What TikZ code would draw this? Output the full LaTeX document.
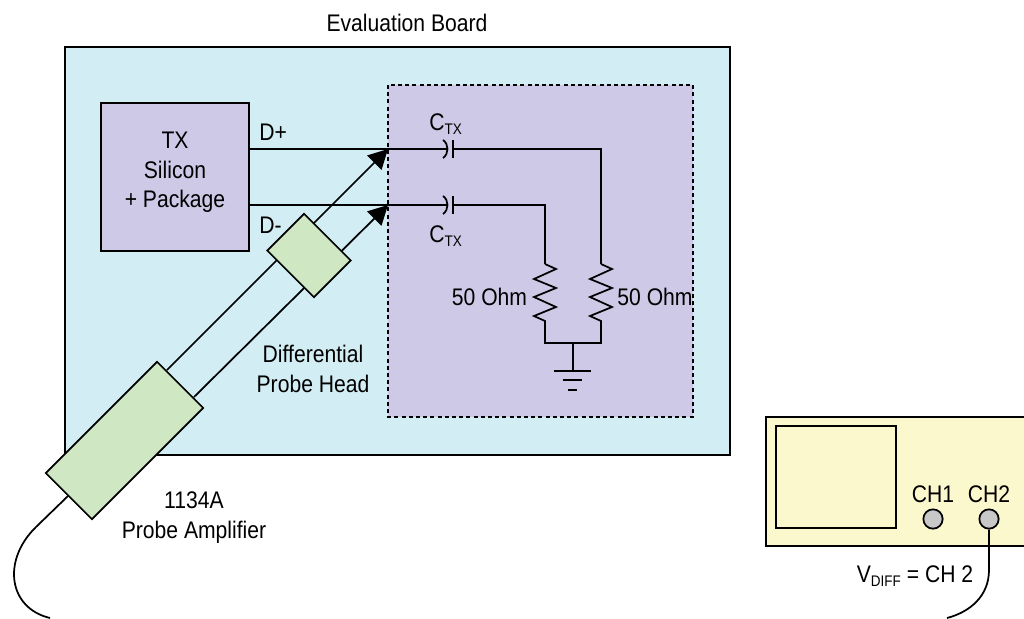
\documentclass[tikz,border=0pt]{standalone}
\usepackage{fontspec}
\setmainfont[FakeStretch=0.88]{Liberation Sans}
\usepackage{xcolor}
\usetikzlibrary{positioning, arrows.meta}

\definecolor{boardblue}{HTML}{D2EDF3}
\definecolor{txpurple}{HTML}{CDC9E6}
\definecolor{probegreen}{HTML}{D0E7C4}
\definecolor{scopeyellow}{HTML}{FCF8CE}
\definecolor{portgray}{HTML}{C8C8C8}

\tikzset{
    wire/.style={draw, line width=1.3pt},
    panel/.style={draw, line width=1.3pt},
    probebox/.style={draw, line width=1.3pt, fill=probegreen, rotate=45, inner sep=0pt},
    port/.style={circle, draw, line width=1.3pt, fill=portgray, minimum size=14.5pt, inner sep=0pt},
    lbl/.style={inner sep=0pt, align=center, font=\fontsize{18}{22}\selectfont},
}

\begin{document}
\begin{tikzpicture}[x=0.75pt,y=-0.75pt]
\clip (0,0) rectangle (1024,618);
\useasboundingbox (0,0) rectangle (1024,618);
\fill[white] (0,0) rectangle (1024,618);

\node[lbl] (title) at (407,23) {Evaluation Board};
\draw[panel, fill=boardblue] (65,47) rectangle (730,455);
\draw[line width=1.3pt, dashed, dash pattern=on 3pt off 2.4pt, fill=txpurple] (388,85) rectangle (693,417);

\node[panel, fill=txpurple, minimum width=111pt, minimum height=110.5pt, inner sep=0pt] (tx) at (175,177) {};
\node[lbl] (txtext) at (175,172.5) {TX\\Silicon\\+ Package};
\node[lbl, anchor=west] (dplus) at (259,132) {D+};
\node[lbl, anchor=west] (dminus) at (259,225) {D-};

% tips and capacitor ends
\coordinate (tipP) at (388,149);
\coordinate (tipM) at (388,205);
\coordinate (capP) at (448,149);
\coordinate (capM) at (448,205);
\coordinate (ampP) at (167,370);
\coordinate (ampM) at (194,397);
\coordinate (resP) at (601,264);
\coordinate (resM) at (545,264);

\draw[wire] (tx.east |- tipP) -- (capP);
\draw[wire] (tx.east |- tipM) -- (capM);
\draw[wire, -{Triangle[length=14.5pt,width=15pt]}] (ampP) -- (tipP);
\draw[wire, -{Triangle[length=14.5pt,width=15pt]}] (ampM) -- (tipM);

% capacitors
\foreach \y in {149,205} {
    \draw[line width=1.3pt] (443,\y-9) .. controls (449,\y-5) and (449,\y+5) .. (443,\y+9);
    \draw[line width=1.3pt] (453,\y-9) -- (453,\y+9);
}
\draw[wire] (453,149) -| (resP);
\draw[wire] (453,205) -| (resM);

% resistors
\foreach \x in {545,601} {
    \draw[line width=1.3pt, line join=miter] (\x,264) -- ++(11,5) -- ++(-22,10) -- ++(22,9) -- ++(-22,9) -- ++(22,10) -- ++(-22,9) -- ++(11,5) -- (\x,343);
}
\draw[line width=1.3pt, line cap=rect] (545,343) -- (601,343);

% ground
\coordinate (gnd) at (573,371);
\draw[line width=1.3pt] (573,343) -- (gnd);
\draw[line width=1.3pt] (554,371) -- (591,371);
\draw[line width=1.3pt] (563,380) -- (582,380);
\draw[line width=1.3pt] (568,390) -- (577,390);

\node[lbl, anchor=west] (ctxa) at (429,124) {C\raisebox{-0.35ex}{\fontsize{11.5}{12}\selectfont TX}};
\node[lbl, anchor=west] (ctxb) at (429,236) {C\raisebox{-0.35ex}{\fontsize{11.5}{12}\selectfont TX}};
\node[lbl] (ohma) at (489.5,297) {50 Ohm};
\node[lbl] (ohmb) at (655,297) {50 Ohm};

\node[probebox, minimum width=39pt, minimum height=49.5pt] (head) at (309,255.5) {};
\node[probebox, minimum width=118pt, minimum height=49pt] (amp) at (124.5,440.5) {};

\node[lbl] (headtext) at (313,369) {Differential\\Probe Head};
\node[lbl] (amptext) at (194,517.5) {1134A\\Probe Amplifier};

% scope
\draw[panel, fill=scopeyellow] (766,417) rectangle (1034,546);
\node[panel, minimum width=90pt, minimum height=76.5pt, inner sep=0pt] (screen) at (836,477) {};
\node[port] (chone) at (933,519) {};
\node[port] (chtwo) at (989,519) {};
\node[lbl] (chonetext) at (933,494) {CH1};
\node[lbl] (chtwotext) at (989,494) {CH2};
\node[lbl] (vdiff) at (915,576) {V\raisebox{-0.35ex}{\fontsize{11.5}{12}\selectfont DIFF} = CH 2};

% cable
\coordinate (cableend) at (947,618);
\coordinate (cablestart) at (50,618);
\draw[wire] (chtwo.south) -- (989,570) .. controls (989,596) and (970,612) .. (cableend);
\coordinate (ampcable) at (68,496);
\draw[line width=1.3pt] (ampcable) -- (36,527) .. controls (2,560) and (8,608) .. (cablestart);
\end{tikzpicture}
\end{document}
